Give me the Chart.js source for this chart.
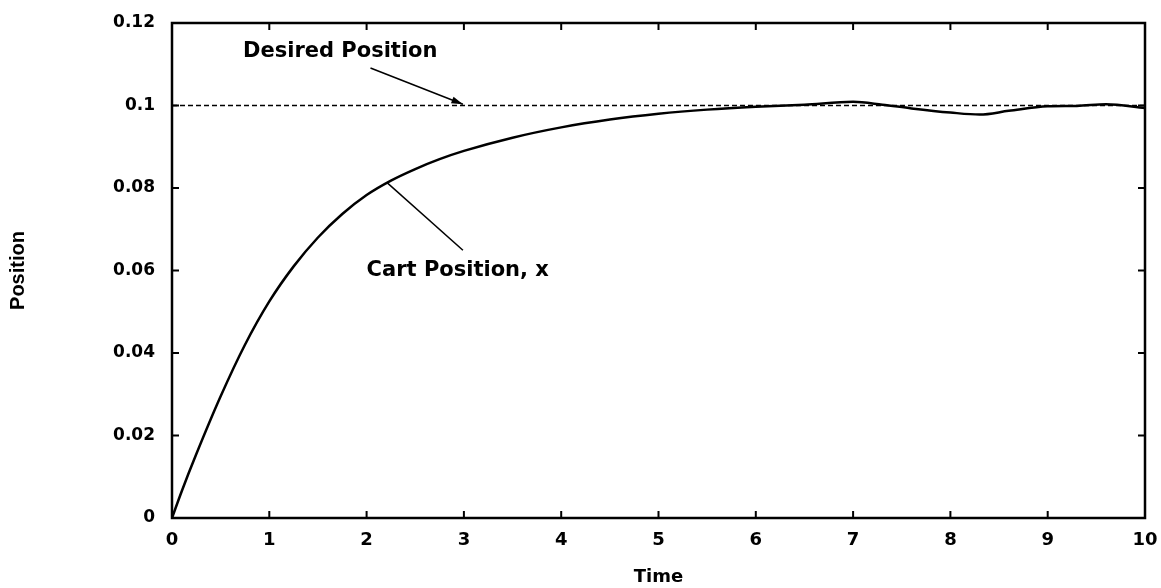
<!DOCTYPE html>
<html>
<head>
<meta charset="utf-8">
<script src="https://cdn.jsdelivr.net/npm/chart.js@4/dist/chart.umd.min.js"></script>
<style>
  html, body { margin: 0; padding: 0; background: #fff; }
  #wrap { width: 1161px; height: 588px; }
</style>
</head>
<body>
<div id="wrap"><canvas id="myChart" width="1161" height="588"></canvas></div>
<script>
// data
const timeValues = [0, 0.1, 0.25, 0.5, 0.75, 1, 1.25, 1.5, 1.75, 2, 2.25, 2.5, 2.75, 3, 3.5, 4, 4.5, 5, 5.5, 6, 6.5, 7, 7.3, 7.6, 8, 8.3, 8.6, 9, 9.3, 9.6, 10];
const cartPosition = [0, 0.0065, 0.0155, 0.0295, 0.042, 0.0525, 0.061, 0.068, 0.0737, 0.0783, 0.0818, 0.0846, 0.087, 0.089, 0.0922, 0.0947, 0.0966, 0.098, 0.099, 0.0997, 0.1002, 0.1009, 0.1002, 0.0993, 0.0983, 0.0978, 0.0987, 0.0998, 0.0999, 0.1003, 0.0994];
const desiredTime = [0, 10];
const desiredPosition = [0.1, 0.1];
const xTickLabels = ['0', '1', '2', '3', '4', '5', '6', '7', '8', '9', '10'];
const yTickLabels = ['0', '0.02', '0.04', '0.06', '0.08', '0.1', '0.12'];

const wideBold = "'DejaVu Sans', Verdana, sans-serif";
const tickFont = { family: wideBold, size: 17, weight: 'bold' };

// frame with inward ticks on all four sides
const framePlugin = {
  id: 'frame',
  afterDraw(chart) {
    const ctx = chart.ctx;
    const a = chart.chartArea;
    const xs = chart.scales.x, ys = chart.scales.y;
    ctx.save();
    ctx.strokeStyle = '#000';
    ctx.lineWidth = 2.5;
    ctx.strokeRect(a.left, a.top, a.right - a.left, a.bottom - a.top);
    ctx.lineWidth = 2;
    const len = 7;
    ctx.beginPath();
    xs.ticks.forEach(t => {
      const px = xs.getPixelForValue(t.value);
      ctx.moveTo(px, a.bottom); ctx.lineTo(px, a.bottom - len);
      ctx.moveTo(px, a.top); ctx.lineTo(px, a.top + len);
    });
    ys.ticks.forEach(t => {
      const py = ys.getPixelForValue(t.value);
      ctx.moveTo(a.left, py); ctx.lineTo(a.left + len, py);
      ctx.moveTo(a.right, py); ctx.lineTo(a.right - len, py);
    });
    ctx.stroke();
    ctx.restore();
  }
};

// text labels with leader lines
const notesPlugin = {
  id: 'notes',
  afterDatasetsDraw(chart) {
    const ctx = chart.ctx;
    const xs = chart.scales.x, ys = chart.scales.y;
    const X = v => xs.getPixelForValue(v), Y = v => ys.getPixelForValue(v);
    ctx.save();
    ctx.fillStyle = '#000';
    ctx.strokeStyle = '#000';
    ctx.font = "bold 21px " + wideBold;
    ctx.textBaseline = 'middle';
    ctx.textAlign = 'left';
    ctx.fillText('Desired Position', X(0.73), Y(0.1132));
    ctx.fillText('Cart Position, x', X(2.0), Y(0.0599));

    ctx.lineWidth = 1.5;
    // arrow to desired line
    const x1 = X(2.04), y1 = Y(0.1091), x2 = X(2.99), y2 = Y(0.1003);
    ctx.beginPath(); ctx.moveTo(x1, y1); ctx.lineTo(x2, y2); ctx.stroke();
    const ang = Math.atan2(y2 - y1, x2 - x1);
    ctx.beginPath();
    ctx.moveTo(x2, y2);
    ctx.lineTo(x2 - 12 * Math.cos(ang - 0.3), y2 - 12 * Math.sin(ang - 0.3));
    ctx.lineTo(x2 - 12 * Math.cos(ang + 0.3), y2 - 12 * Math.sin(ang + 0.3));
    ctx.closePath(); ctx.fill();
    // leader to cart curve
    ctx.beginPath(); ctx.moveTo(X(2.99), Y(0.0649)); ctx.lineTo(X(2.21), Y(0.0813)); ctx.stroke();
    ctx.restore();
  }
};

const ctx = document.getElementById('myChart').getContext('2d');

const myChart = new Chart(ctx, {
  type: 'line',
  data: {
    datasets: [
      {
        label: 'Cart Position, x',
        data: timeValues.map((t, i) => ({ x: t, y: cartPosition[i] })),
        borderColor: '#000',
        borderWidth: 2.5,
        pointRadius: 0,
        cubicInterpolationMode: 'monotone',
        fill: false
      },
      {
        label: 'Desired Position',
        data: desiredTime.map((t, i) => ({ x: t, y: desiredPosition[i] })),
        borderColor: '#000',
        borderWidth: 1.5,
        borderDash: [5, 3],
        pointRadius: 0,
        fill: false
      }
    ]
  },
  options: {
    responsive: false,
    animation: false,
    layout: { padding: { top: 23, right: 16, left: 0, bottom: 0 } },
    plugins: {
      legend: { display: false },
      tooltip: { enabled: false }
    },
    scales: {
      x: {
        type: 'linear',
        min: 0, max: 10,
        grid: { display: false, drawTicks: false },
        border: { display: false },
        ticks: {
          stepSize: 1,
          color: '#000',
          font: { family: wideBold, size: 18, weight: 'bold' },
          padding: 12,
          maxRotation: 0,
          callback: (v, i) => xTickLabels[i]
        },
        title: {
          display: true,
          text: 'Time',
          color: '#000',
          font: { family: wideBold, size: 18, weight: 'bold' },
          padding: { top: 0, bottom: 0 }
        },
        afterFit(scale) {
          scale.height = 70;
          scale.paddingLeft = 0;
          scale.paddingRight = 0;
        }
      },
      y: {
        min: 0, max: 0.12,
        grid: { display: false, drawTicks: false },
        border: { display: false },
        ticks: {
          stepSize: 0.02,
          color: '#000',
          font: tickFont,
          padding: 17,
          callback: (v, i) => yTickLabels[i]
        },
        title: {
          display: true,
          text: 'Position',
          color: '#000',
          font: { family: "'Liberation Sans Narrow', 'Liberation Sans', sans-serif", size: 20, weight: 'bold' },
          padding: { top: 6, bottom: 0 }
        },
        afterFit(scale) {
          scale.width = 172;
          scale.paddingTop = 0;
          scale.paddingBottom = 0;
        }
      }
    }
  },
  plugins: [framePlugin, notesPlugin]
});
</script>
</body>
</html>
